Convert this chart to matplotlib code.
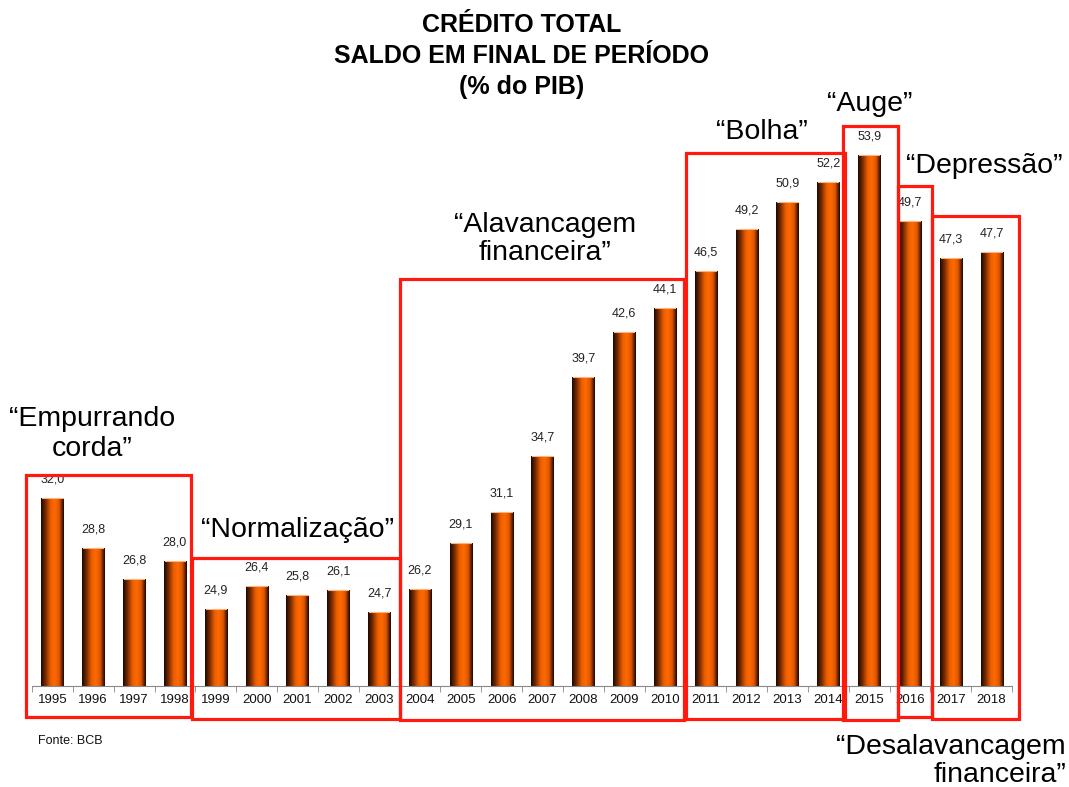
import numpy as np
import matplotlib
matplotlib.use("Agg")
import matplotlib.pyplot as plt
from matplotlib.colors import LinearSegmentedColormap
from matplotlib.patches import Rectangle

plt.rcParams['font.family'] = ['Liberation Sans', 'DejaVu Sans']

years = [str(y) for y in range(1995, 2019)]
credito = [32.0, 28.8, 26.8, 28.0, 24.9, 26.4, 25.8, 26.1, 24.7, 26.2, 29.1, 31.1,
           34.7, 39.7, 42.6, 44.1, 46.5, 49.2, 50.9, 52.2, 53.9, 49.7, 47.3, 47.7]

# fases: (primeiro ano, ultimo ano, rotulo)
fases = [(1995, 1998, "“Empurrando\ncorda”"),
         (1999, 2003, "“Normalização”"),
         (2004, 2010, "“Alavancagem\nfinanceira”"),
         (2011, 2014, "“Bolha”"),
         (2015, 2015, "“Auge”"),
         (2016, 2016, "“Depressão”"),
         (2017, 2018, "“Desalavancagem\nfinanceira”")]

W, H = 1069, 787
fig = plt.figure(figsize=(W / 100, H / 100), dpi=100)
ax = fig.add_axes([32 / W, 1 - 686 / H, 980 / W, (686 - 59.4) / H])

cmap = LinearSegmentedColormap.from_list("barra", [
    (0.0, "#1c0800"), (0.2, "#7a2c00"), (0.42, "#ec5e00"), (0.6, "#ff6a00"),
    (0.8, "#de5600"), (0.92, "#6a2400"), (1.0, "#1a0700")])
grad = np.linspace(0, 1, 64).reshape(1, -1)

x = np.arange(len(years))
w = 0.54
ymin, ymax = 20, 60
bars = ax.bar(x, credito, width=w, color="none", edgecolor="none")
for xi, v, b in zip(x, credito, bars):
    im = ax.imshow(grad, extent=[xi - w / 2, xi + w / 2, ymin, v], aspect='auto',
                   cmap=cmap, interpolation='bilinear', zorder=2)
    im.set_clip_path(b)
    ax.plot([xi - w / 2 + 0.02, xi + w / 2 - 0.02], [v, v], color="#ffb27a", lw=0.8, zorder=3)
    ax.annotate(f"{v:.1f}".replace(".", ","), (xi, v), xytext=(0, 9),
                textcoords="offset points", ha="center", va="bottom",
                fontsize=9, color="#222222")

ax.set_xlim(-0.5, len(years) - 0.5)
ax.set_ylim(ymin, ymax)
ax.set_aspect('auto')
for s in ["top", "right", "left"]:
    ax.spines[s].set_visible(False)
ax.spines["bottom"].set_color("#888888")
ax.spines["bottom"].set_linewidth(0.8)
ax.set_yticks([])
ax.set_xticks(x)
ax.set_xticklabels(years, fontsize=9.5, color="#111111")
ax.tick_params(axis="x", length=0, pad=6)
ax.set_xticks(np.arange(-0.5, len(years), 1), minor=True)
ax.tick_params(axis="x", which="minor", length=4, color="#888888")

# caixas vermelhas das fases
caixas = [(-0.65, 3.39, 33.5, 18.0), (3.42, 8.51, 28.2, 17.9), (8.51, 15.47, 46.0, 17.8),
          (15.52, 19.41, 54.0, 17.9), (19.36, 20.71, 55.75, 17.8), (20.71, 21.54, 51.9, 18.0),
          (21.54, 23.67, 50.0, 17.9)]
for x0, x1, top, bot in caixas:
    ax.add_patch(Rectangle((x0, bot), x1 - x0, top - bot, fill=False, edgecolor="#ff1a0d",
                           lw=2.3, clip_on=False, zorder=4))

# rotulos das fases (posicoes em pixels)
pos = [(92, 434, "center"), (297, 530, "center"), (545, 239, "center"), (762, 132, "center"),
       (870, 104, "center"), (984, 166, "center"), (1066, 761, "right")]
for (px, py, ha), (_, _, txt) in zip(pos, fases):
    fig.text(px / W, 1 - py / H, txt, ha=ha, va="center", fontsize=20.5,
             multialignment=ha, linespacing=1.15, color="black")

fig.text(522 / W, 1 - 56 / H, "CRÉDITO TOTAL\nSALDO EM FINAL DE PERÍODO\n(% do PIB)",
         ha="center", va="center", fontsize=18, fontweight="bold", linespacing=1.39)
fig.text(38 / W, 1 - 741 / H, "Fonte: BCB", ha="left", va="center", fontsize=9, color="#111111")

fig.savefig("out.png", dpi=100, facecolor="white")
